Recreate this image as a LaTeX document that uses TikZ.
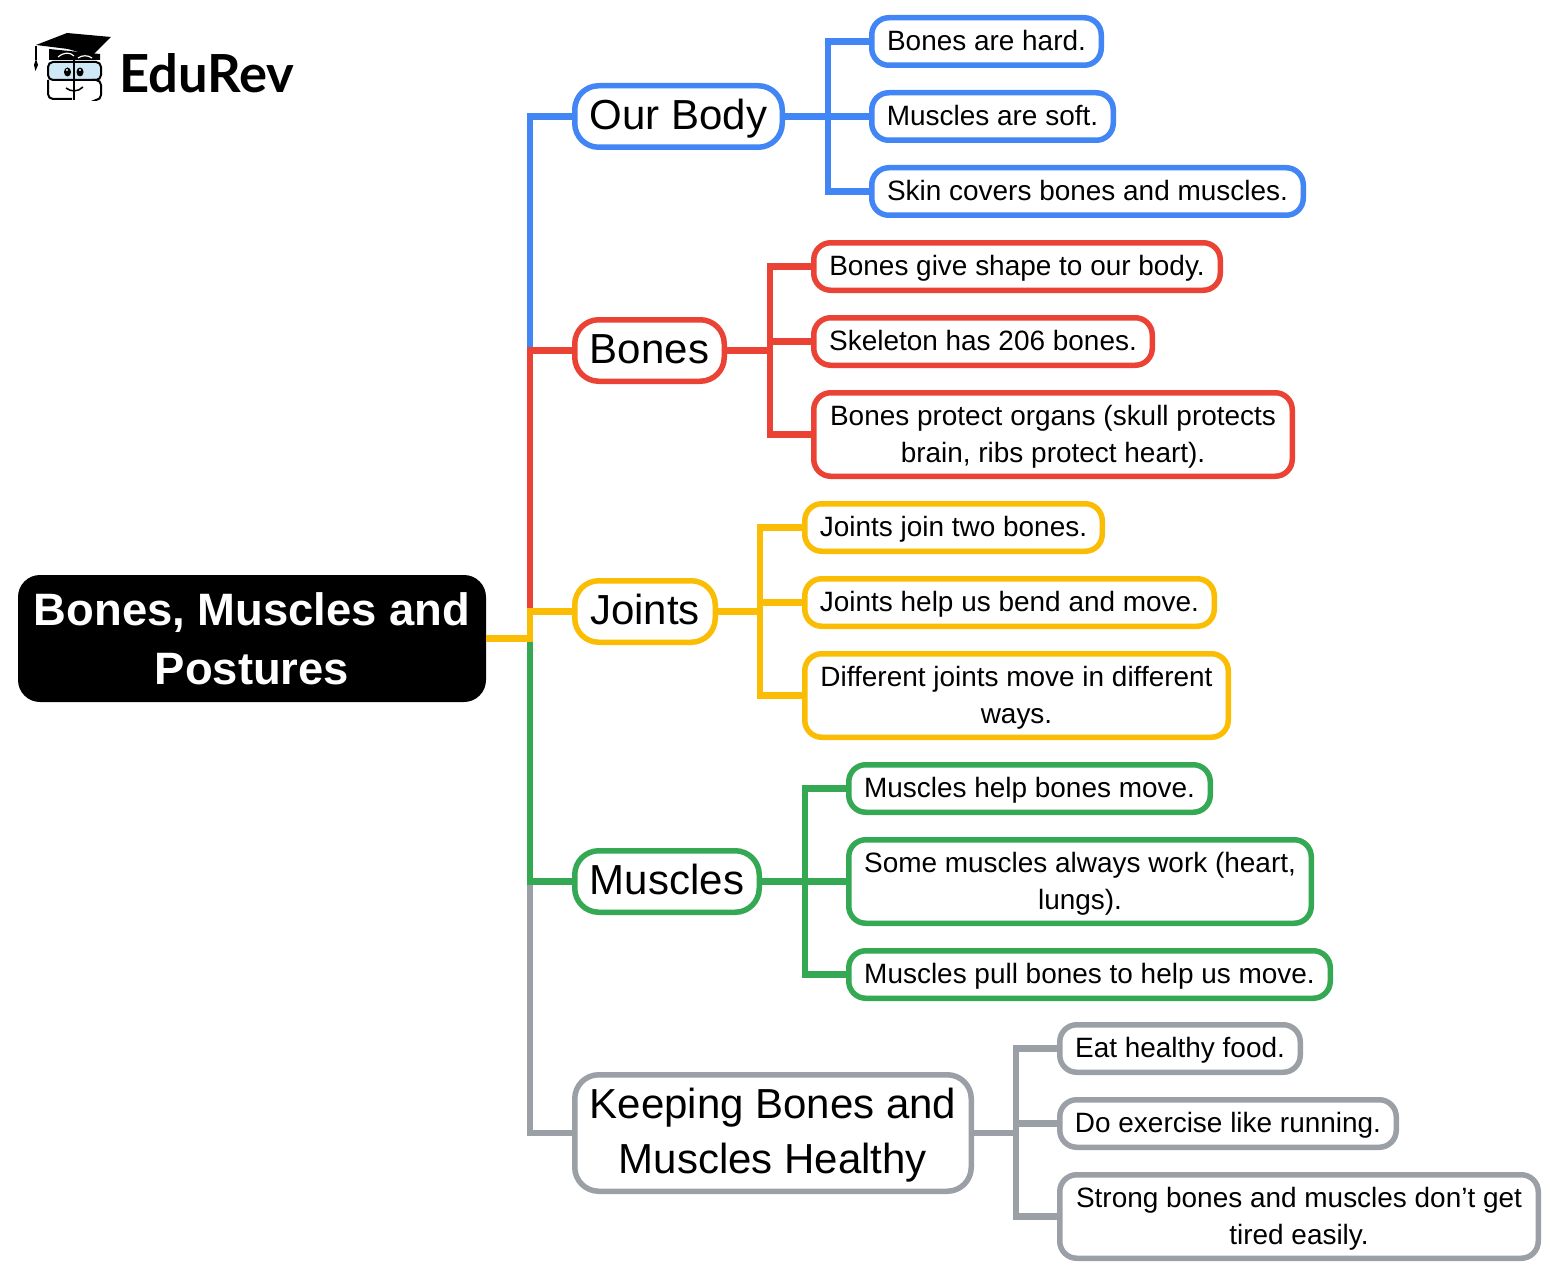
\documentclass[tikz,border=0pt]{standalone}
\usepackage{fontspec}
\setmainfont{Liberation Sans}
\newfontfamily\logofont{Lato}
\definecolor{cblue}{HTML}{4285F4}
\definecolor{cred}{HTML}{EA4335}
\definecolor{cyellow}{HTML}{FBBC04}
\definecolor{cgreen}{HTML}{34A853}
\definecolor{cgray}{HTML}{9AA0A6}
\definecolor{lens}{HTML}{CFE8F5}
\newcommand{\branchstrut}{\leavevmode\vrule height 37pt depth 11pt width 0pt\relax}
\newcommand{\leafstrut}{\leavevmode\vrule height 26pt depth 8pt width 0pt\relax}
\tikzset{
  rootbox/.style={fill=black,rounded corners=22pt,minimum width=468pt,minimum height=127pt,inner sep=0pt,outer sep=0pt,text=white,align=center,font=\fontsize{45.4}{59}\selectfont\bfseries},
  branchbox/.style={draw=#1,fill=white,line width=5.5pt,rounded corners=24pt,minimum height=61.5pt,inner sep=0pt,outer sep=0pt,align=center,font=\fontsize{42}{54.5}\selectfont,execute at end node=\branchstrut},
  leafbox/.style={draw=#1,fill=white,line width=5.5pt,rounded corners=17pt,minimum height=47.5pt,inner sep=0pt,outer sep=0pt,align=center,font=\fontsize{27.95}{37}\selectfont,execute at end node=\leafstrut},
  two/.style={minimum height=83.5pt},
  twobranch/.style={minimum height=116.5pt},
  link/.style={draw=#1,line width=6.5pt,line join=miter},
}
\begin{document}
\begin{tikzpicture}[x=1pt,y=-1pt]
\useasboundingbox (0,0) rectangle (1555,1276);
\coordinate (sp) at (530,638.5);
\coordinate (obt) at (828,116.5);
\coordinate (bnt) at (770,350.5);
\coordinate (jtt) at (760,611.5);
\coordinate (mst) at (805,881.5);
\coordinate (kpt) at (1016,1133);
% nodes
\node[rootbox] (root) at (252,638.5) {Bones, Muscles and\\Postures};
\node[branchbox=cblue,minimum width=207.5pt] (ob) at (678.5,116.5) {Our Body};
\node[branchbox=cred,minimum width=149.5pt] (bn) at (649.5,350.5) {Bones};
\node[branchbox=cyellow,minimum width=140.5pt] (jt) at (645,611.5) {Joints};
\node[branchbox=cgreen,minimum width=184.5pt] (ms) at (667,881.5) {Muscles};
\node[branchbox=cgray,twobranch,minimum width=396.5pt] (kp) at (773,1133) {\branchstrut Keeping Bones and\\Muscles Healthy};
\node[leafbox=cblue,minimum width=229.5pt] (a1) at (986.5,41.5) {Bones are hard.};
\node[leafbox=cblue,minimum width=241.5pt] (a2) at (992.5,116.5) {Muscles are soft.};
\node[leafbox=cblue,minimum width=431.5pt] (a3) at (1087.5,191.5) {Skin covers bones and muscles.};
\node[leafbox=cred,minimum width=406.5pt] (b1) at (1017,266.5) {Bones give shape to our body.};
\node[leafbox=cred,minimum width=338.5pt] (b2) at (983,341.5) {Skeleton has 206 bones.};
\node[leafbox=cred,two,minimum width=478.5pt] (b3) at (1053,434.5) {\leafstrut Bones protect organs (skull protects\\brain, ribs protect heart).};
\node[leafbox=cyellow,minimum width=297.5pt] (c1) at (953.5,527.5) {Joints join two bones.};
\node[leafbox=cyellow,minimum width=409.5pt] (c2) at (1009.5,602.5) {Joints help us bend and move.};
\node[leafbox=cyellow,two,minimum width=423.5pt] (c3) at (1016.5,695.5) {\leafstrut Different joints move in different\\ways.};
\node[leafbox=cgreen,minimum width=361.5pt] (d1) at (1029.5,788.5) {Muscles help bones move.};
\node[leafbox=cgreen,two,minimum width=462.5pt] (d2) at (1080,881.5) {\leafstrut Some muscles always work (heart,\\lungs).};
\node[leafbox=cgreen,minimum width=481.5pt] (d3) at (1089.5,974.5) {Muscles pull bones to help us move.};
\node[leafbox=cgray,minimum width=240.5pt] (e1) at (1180,1048.5) {Eat healthy food.};
\node[leafbox=cgray,minimum width=336.5pt] (e2) at (1228,1123.5) {Do exercise like running.};
\node[leafbox=cgray,two,minimum width=478.5pt] (e3) at (1299,1216.5) {\leafstrut Strong bones and muscles don’t get\\tired easily.};
% connectors
\draw[link=cblue] (root.east) -- (sp) |- (ob.west);
\draw[link=cred] (root.east) -- (sp) |- (bn.west);
\draw[link=cgray] (root.east) -- (sp) |- (kp.west);
\draw[link=cgreen] (root.east) -- (sp) |- (ms.west);
\draw[link=cyellow] (root.east) -- (sp) |- (jt.west);
\draw[link=cblue] (ob.east) -- (obt) |- (a1.west);
\draw[link=cblue] (ob.east) -- (obt) |- (a2.west);
\draw[link=cblue] (ob.east) -- (obt) |- (a3.west);
\draw[link=cred] (bn.east) -- (bnt) |- (b1.west);
\draw[link=cred] (bn.east) -- (bnt) |- (b2.west);
\draw[link=cred] (bn.east) -- (bnt) |- (b3.west);
\draw[link=cyellow] (jt.east) -- (jtt) |- (c1.west);
\draw[link=cyellow] (jt.east) -- (jtt) |- (c2.west);
\draw[link=cyellow] (jt.east) -- (jtt) |- (c3.west);
\draw[link=cgreen] (ms.east) -- (mst) |- (d1.west);
\draw[link=cgreen] (ms.east) -- (mst) |- (d2.west);
\draw[link=cgreen] (ms.east) -- (mst) |- (d3.west);
\draw[link=cgray] (kp.east) -- (kpt) |- (e1.west);
\draw[link=cgray] (kp.east) -- (kpt) |- (e2.west);
\draw[link=cgray] (kp.east) -- (kpt) |- (e3.west);
% logo
\node[anchor=west,inner sep=0pt,font=\fontsize{52.5}{52.5}\logofont\bfseries] (logo) at (119,73) {EduRev};
\fill (49,49) -- (49,60) -- (100,60) -- (100,54) -- cycle;
\fill (36,45) -- (67,33) -- (111,37) -- (92,56) -- (68,49) -- cycle;
\draw[line width=1.3pt] (36,46) -- (36,60);
\fill (36,59) -- (38,65) -- (35.5,71) -- (34,65) -- cycle;
\draw[draw=white,line width=1.2pt] (58,57) .. controls (64,52) and (70,52) .. (74,56);
\draw[draw=white,line width=1.2pt] (78,58) .. controls (82,55) and (88,55) .. (92,58);
\draw[line width=2pt,fill=lens,rounded corners=5pt] (48,62) rectangle (101,80);
\draw[line width=2pt,rounded corners=5pt] (72,99) -- (48,99) -- (48,80) (92,80) -- (101,80) -- (101,100) -- (97,100);
\draw[line width=2.2pt] (74,60) -- (74,100);
\fill (67.5,72) ellipse (3.5pt and 4.5pt);
\fill (80,72) ellipse (3.5pt and 4.5pt);
\fill[white] (67,70) circle (1.1pt) (80,70) circle (1.1pt);
\draw[line width=1.5pt] (66,88) .. controls (71,92) and (78,92) .. (83,87);
\end{tikzpicture}
\end{document}
